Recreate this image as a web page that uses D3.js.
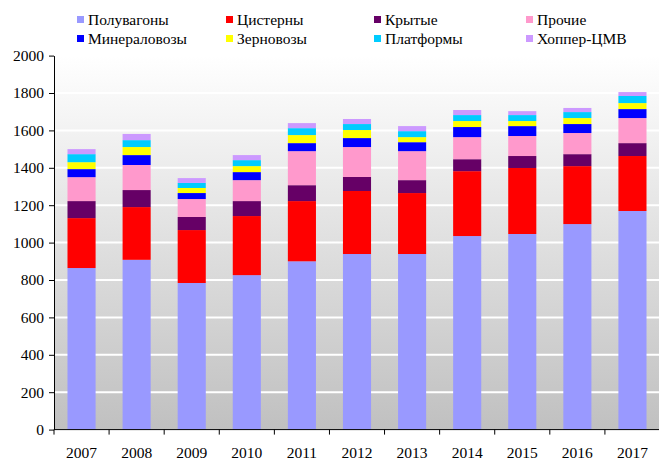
<!DOCTYPE html>
<html>
<head>
<meta charset="utf-8">
<script src="https://cdn.jsdelivr.net/npm/d3@7"></script>
<style>
  body { margin: 0; background: #fff; }
</style>
</head>
<body>
<script>
var years = ["2007","2008","2009","2010","2011","2012","2013","2014","2015","2016","2017"]

var seriesNames = ["Полувагоны","Цистерны","Крытые","Прочие","Минераловозы","Зерновозы","Платформы","Хоппер-ЦМВ"]
var seriesColors = ["#9999ff","#ff0000","#660066","#ff99cc","#0000ff","#ffff00","#00ccff","#cc99ff"]

var poluvagony   = [864, 908, 784, 826, 900, 939, 939, 1035, 1046, 1099, 1169]
var cisterny     = [267, 282, 283, 316, 322, 337, 326, 347, 353, 310, 294]
var krytye       = [91, 91, 70, 80, 85, 75, 69, 64, 64, 64, 69]
var prochie      = [128, 134, 96, 112, 182, 160, 155, 118, 107, 113, 134]
var mineralovozy = [43, 53, 32, 43, 43, 48, 48, 54, 53, 48, 48]
var zernovozy    = [37, 43, 27, 32, 43, 43, 27, 32, 27, 32, 32]
var platformy    = [43, 37, 27, 32, 37, 32, 32, 32, 32, 32, 38]
var hopper       = [27, 33, 26, 27, 27, 27, 27, 27, 21, 22, 21]

var yTicks = [0, 200, 400, 600, 800, 1000, 1200, 1400, 1600, 1800, 2000]

var allSeries = [poluvagony, cisterny, krytye, prochie, mineralovozy, zernovozy, platformy, hopper]

var FONT = '"Liberation Serif", "Times New Roman", serif'

// rows for d3.stack
var table = years.map(function(y, i){
  var row = {year: y}
  seriesNames.forEach(function(n, j){ row[n] = allSeries[j][i] })
  return row
})

var width = 659, height = 460
var plot = {left: 54, right: 660, top: 55.6, bottom: 429.6}

var svg = d3.select("body")
            .append("svg")
            .attr("width", width)
            .attr("height", height)

var defs = svg.append("defs")
var grad = defs.append("linearGradient")
    .attr("id", "bg")
    .attr("x1", 0).attr("y1", 0).attr("x2", 0).attr("y2", 1)
grad.append("stop").attr("offset", "0%").attr("stop-color", "#ffffff")
grad.append("stop").attr("offset", "100%").attr("stop-color", "#c0c0c0")

var x = d3.scaleBand()
    .domain(years)
    .range([plot.left, plot.right])

var y = d3.scaleLinear()
    .domain([0, 2000])
    .range([plot.bottom, plot.top])

svg.append("rect")
    .attr("x", plot.left)
    .attr("y", plot.top)
    .attr("width", plot.right - plot.left)
    .attr("height", plot.bottom - plot.top)
    .style("fill", "url(#bg)")

// white grid
svg.append("g")
    .selectAll("line")
    .data(yTicks.slice(1))
    .enter()
    .append("line")
    .attr("x1", plot.left)
    .attr("x2", plot.right)
    .attr("y1", function(d){ return y(d) })
    .attr("y2", function(d){ return y(d) })
    .style("stroke", "#ffffff")
    .style("stroke-width", 2)

var stacked = d3.stack().keys(seriesNames)(table)
var barW = x.bandwidth() * 0.51

svg.append("g")
    .selectAll("g")
    .data(stacked)
    .enter()
    .append("g")
    .style("fill", function(d, i){ return seriesColors[i] })
    .selectAll("rect")
    .data(function(d){ return d })
    .enter()
    .append("rect")
    .attr("x", function(d){ return x(d.data.year) + (x.bandwidth() - barW) / 2 })
    .attr("y", function(d){ return y(d[1]) })
    .attr("width", barW)
    .attr("height", function(d){ return y(d[0]) - y(d[1]) })

// y axis
var yAxis = svg.append("g")
    .attr("transform", "translate(" + plot.left + ",0)")
    .call(d3.axisLeft(y).tickValues(yTicks).tickFormat(d3.format("d"))
      .tickSize(5).tickPadding(5).tickSizeOuter(0))
yAxis.select(".domain").style("stroke", "#000")
yAxis.selectAll("text")
    .style("font-family", FONT)
    .style("font-size", "15.5px")
    .style("fill", "#000")

// x axis, ticks between the categories
var xAxis = svg.append("g")
    .attr("transform", "translate(0," + plot.bottom + ")")
xAxis.append("line")
    .attr("x1", plot.left).attr("x2", plot.right)
    .style("stroke", "#000")
xAxis.selectAll("line.tk")
    .data(years)
    .enter()
    .append("line")
    .attr("class", "tk")
    .attr("x1", function(d){ return x(d) })
    .attr("x2", function(d){ return x(d) })
    .attr("y1", 0)
    .attr("y2", 5)
    .style("stroke", "#000")
xAxis.selectAll("text")
    .data(years)
    .enter()
    .append("text")
    .attr("x", function(d){ return x(d) + x.bandwidth() / 2 })
    .attr("y", 28)
    .attr("text-anchor", "middle")
    .style("font-family", FONT)
    .style("font-size", "15.5px")
    .text(function(d){ return d })

// legend
var legendX = [77, 226, 374, 526]
var legendY = [20, 39]
var legend = svg.append("g")
    .selectAll("g")
    .data(seriesNames)
    .enter()
    .append("g")
    .attr("transform", function(d, i){
      return "translate(" + legendX[i % 4] + "," + legendY[Math.floor(i / 4)] + ")"
    })
legend.append("rect")
    .attr("x", 0)
    .attr("y", -4)
    .attr("width", 7)
    .attr("height", 7)
    .style("fill", function(d, i){ return seriesColors[i] })
legend.append("text")
    .attr("x", 11)
    .attr("y", 5)
    .style("font-family", FONT)
    .style("font-size", "15.5px")
    .text(function(d){ return d })
</script>
</body>
</html>
